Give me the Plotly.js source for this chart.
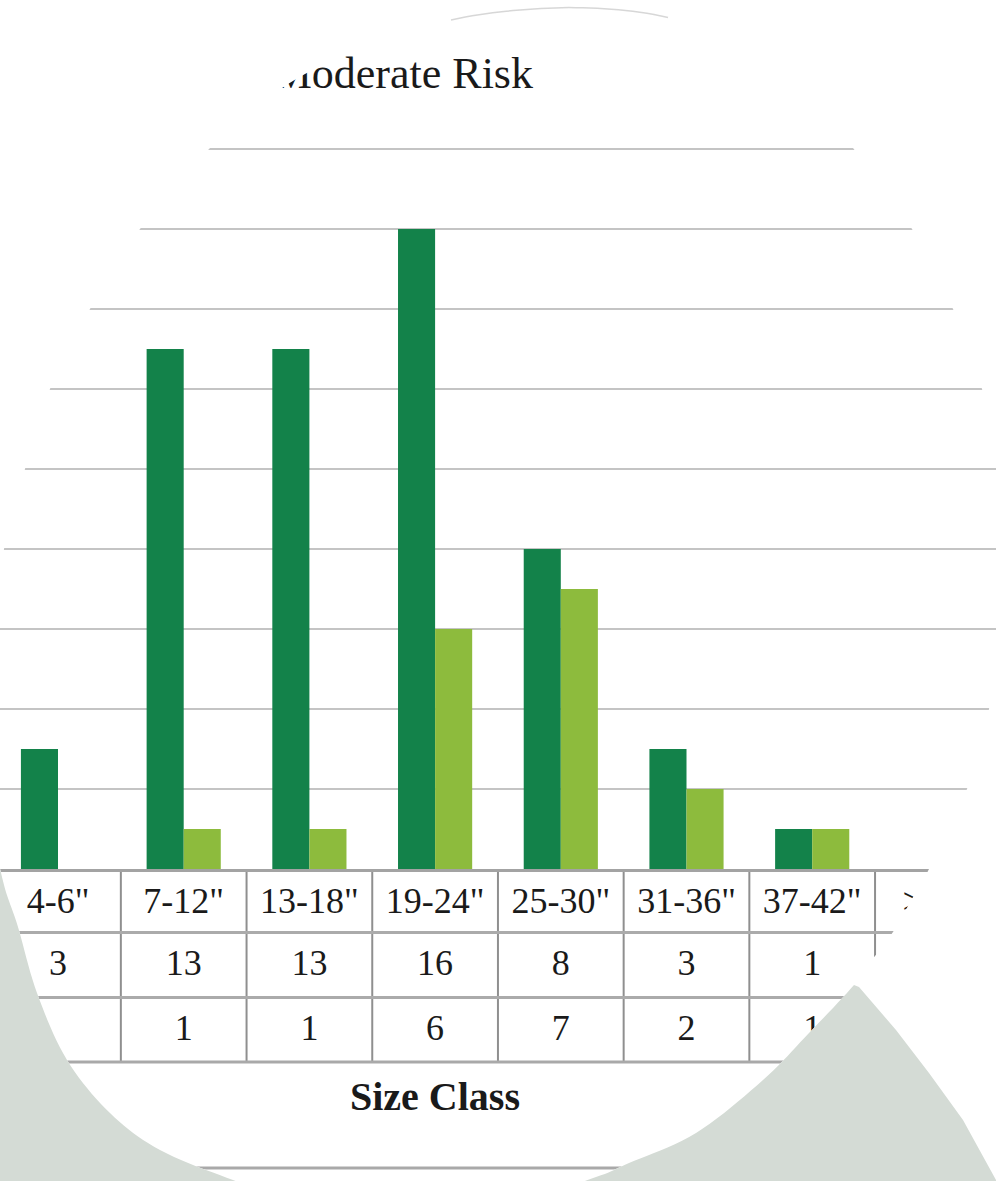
<!DOCTYPE html>
<html><head><meta charset="utf-8">
<script src="https://cdn.plot.ly/plotly-3.0.1.min.js"></script>
<style>html,body{margin:0;padding:0;background:#fff;}#chart{width:996px;height:1181px;}</style>
</head><body><div id="chart"></div>
<script>
// ---- data ----
const sizeClasses = ['4-6"', '7-12"', '13-18"', '19-24"', '25-30"', '31-36"', '37-42"', '>42"'];
const seriesDark  = [3, 13, 13, 16, 8, 3, 1, 0];
const seriesLight = [0, 1, 1, 6, 7, 2, 1, 0];
const chartTitle = 'Moderate Risk';
const axisTitle = 'Size Class';

// ---- layout helpers (pixel -> paper) ----
const W = 996, H = 1181;
const px = x => x / W, py = y => 1 - y / H;
const FONT = '"Liberation Serif", "Times New Roman", serif';
const DARK = '#13824a', LIGHT = '#8dbb3d', GREY_BG = '#d4dbd5';

// outline of the round crop (decoration), clockwise from the top
const ring = [
  [590,8],[661,16],[730,38],[790,78],[830,115],[853,148],[885,188],[912,229],[935,270],[953,309],
  [970,350],[982,389],[993,430],[1000,469],[1004,549],[1001,629],[989,709],[967,789],[930,867],
  [913,897],[893,932],[872,960],[854,985],[809,1033],[763,1080],[696,1133],[629,1163],[596,1177],
  [520,1200],[400,1210],[280,1195],[233,1180],[160,1150],[110,1113],[67,1060],[37,993],[18,927],
  [4,885],[-4,840],[-7,760],[-6,709],[-3,629],[4,549],[25,469],[50,389],[90,309],[140,229],
  [210,148],[258,106],[305,74],[375,42],[451,20],[520,10]
];
function sampleRing(pts, n) {
  const out = [], N = pts.length;
  for (let i = 0; i < N; i++) {
    const p0 = pts[(i - 1 + N) % N], p1 = pts[i], p2 = pts[(i + 1) % N], p3 = pts[(i + 2) % N];
    for (let k = 0; k < n; k++) {
      const t = k / n, t2 = t * t, t3 = t2 * t;
      const f = j => 0.5 * (2 * p1[j] + (-p0[j] + p2[j]) * t + (2 * p0[j] - 5 * p1[j] + 4 * p2[j] - p3[j]) * t2 + (-p0[j] + 3 * p1[j] - 3 * p2[j] + p3[j]) * t3);
      out.push([f(0), f(1)]);
    }
  }
  return out;
}
const ringPts = sampleRing(ring, 10);
const toPath = (pts, close) => pts.map((p, i) => (i ? 'L' : 'M') + px(p[0]).toFixed(5) + ',' + py(p[1]).toFixed(5)).join(' ') + (close ? ' Z' : '');

const leftRun = ringPts.filter(p => p[0] < 420 && p[1] > 820);
const leftGrey = leftRun.concat([[-20, 820], [-20, 1260], [420, 1260]]);
const rightRun = ringPts.filter(p => p[0] >= 420 && p[1] >= 985);
const rightGrey = rightRun.concat([[420, 1260], [1030, 1260], [1030, 1200], [996, 1180], [963, 1120], [929, 1073], [896, 1030], [859, 987]]);
const topArc = ringPts.filter(p => p[1] < 22 && p[0] > 445 && p[0] < 675).sort((a, b) => a[0] - b[0]);

const xr = [-0.4614, 7.4622];
const cellText = arr => arr.map(v => (v > 0 ? String(v) : ''));

const traces = [
  { type: 'bar', name: 'Series 1', x: sizeClasses, y: seriesDark, marker: { color: DARK }, hoverinfo: 'x+y' },
  { type: 'bar', name: 'Series 2', x: sizeClasses, y: seriesLight, marker: { color: LIGHT }, hoverinfo: 'x+y' },
  { type: 'scatter', mode: 'none', x: sizeClasses, y: seriesDark, xaxis: 'x2', yaxis: 'y', hoverinfo: 'skip', showlegend: false },
  { type: 'scatter', mode: 'none', x: sizeClasses, y: seriesLight, xaxis: 'x3', yaxis: 'y', hoverinfo: 'skip', showlegend: false }
];

const tickFont = { family: FONT, size: 36, color: '#1a1a1a' };
const STANDOFF = -2;
const rowAxis = (pos, vals) => ({
  type: 'category', overlaying: 'x', anchor: 'free', position: pos, range: xr,
  tickmode: 'array', tickvals: sizeClasses, ticktext: cellText(vals),
  showgrid: false, zeroline: false, showline: true, linecolor: '#ababab', linewidth: 3,
  ticks: '', tickfont: tickFont, ticklabelstandoff: STANDOFF, fixedrange: true
});

const shapes = [];
// title text (drawn in the lower layer so the round crop trims it)
shapes.push({ type: 'rect', xref: 'paper', yref: 'paper', x0: px(150), x1: px(539), y0: py(92), y1: py(44),
  line: { width: 0 }, fillcolor: 'rgba(0,0,0,0)', layer: 'below',
  label: { text: chartTitle, font: { family: FONT, size: 44, color: '#1a1a1a' }, textposition: 'middle right', padding: 3 } });
// table vertical rules
for (let b = -0.5; b <= 7.5; b += 1) {
  shapes.push({ type: 'line', xref: 'x', yref: 'paper', x0: b, x1: b, y0: py(1062), y1: py(869),
    line: { color: '#8f8f8f', width: 2 }, layer: 'below' });
}
// table bottom rule and lower rule
shapes.push({ type: 'line', xref: 'paper', yref: 'paper', x0: 0, x1: 1, y0: py(1062), y1: py(1062), line: { color: '#a9a9a9', width: 3 }, layer: 'below' });
shapes.push({ type: 'line', xref: 'paper', yref: 'paper', x0: 0, x1: 1, y0: py(1168), y1: py(1168), line: { color: '#a9a9a9', width: 3 }, layer: 'below' });
// round crop mask
shapes.push({ type: 'path', xref: 'paper', yref: 'paper', layer: 'above', fillrule: 'evenodd',
  path: 'M-0.2,-0.2 L1.2,-0.2 L1.2,1.2 L-0.2,1.2 Z ' + toPath(ringPts, true),
  fillcolor: '#ffffff', line: { width: 0 } });
shapes.push({ type: 'path', xref: 'paper', yref: 'paper', layer: 'above', path: toPath(leftGrey, true), fillcolor: GREY_BG, line: { width: 0 } });
shapes.push({ type: 'path', xref: 'paper', yref: 'paper', layer: 'above', path: toPath(rightGrey, true), fillcolor: GREY_BG, line: { width: 0 } });
shapes.push({ type: 'path', xref: 'paper', yref: 'paper', layer: 'above', path: toPath(topArc, false), fillcolor: 'rgba(0,0,0,0)', line: { color: 'rgba(140,140,140,0.35)', width: 1.5 } });

const layout = {
  width: W, height: H, margin: { l: 0, r: 0, t: 0, b: 0 },
  paper_bgcolor: '#ffffff', plot_bgcolor: 'rgba(0,0,0,0)',
  showlegend: false, barmode: 'group', bargap: 0.41, bargroupgap: 0,
  xaxis: { type: 'category', domain: [0, 1], range: xr, showgrid: false, zeroline: false,
    showline: true, linecolor: '#a3a3a3', linewidth: 3, ticks: '', tickfont: tickFont,
    ticklabelstandoff: STANDOFF, fixedrange: true },
  xaxis2: rowAxis(py(932), seriesDark),
  xaxis3: rowAxis(py(997), seriesLight),
  yaxis: { domain: [py(869), py(109)], range: [0, 19], dtick: 2, tick0: 0, showgrid: true,
    gridcolor: '#c4c4c4', gridwidth: 2.5, showticklabels: false, zeroline: false, showline: false, fixedrange: true },
  shapes: shapes,
  annotations: [{ xref: 'paper', yref: 'paper', x: px(435), y: py(1096), xanchor: 'center', yanchor: 'middle',
    text: axisTitle, showarrow: false,
    font: { family: FONT, size: 40, color: '#1a1a1a', weight: 700 } }]
};

Plotly.newPlot('chart', traces, layout, { displayModeBar: false, staticPlot: true });
</script></body></html>
